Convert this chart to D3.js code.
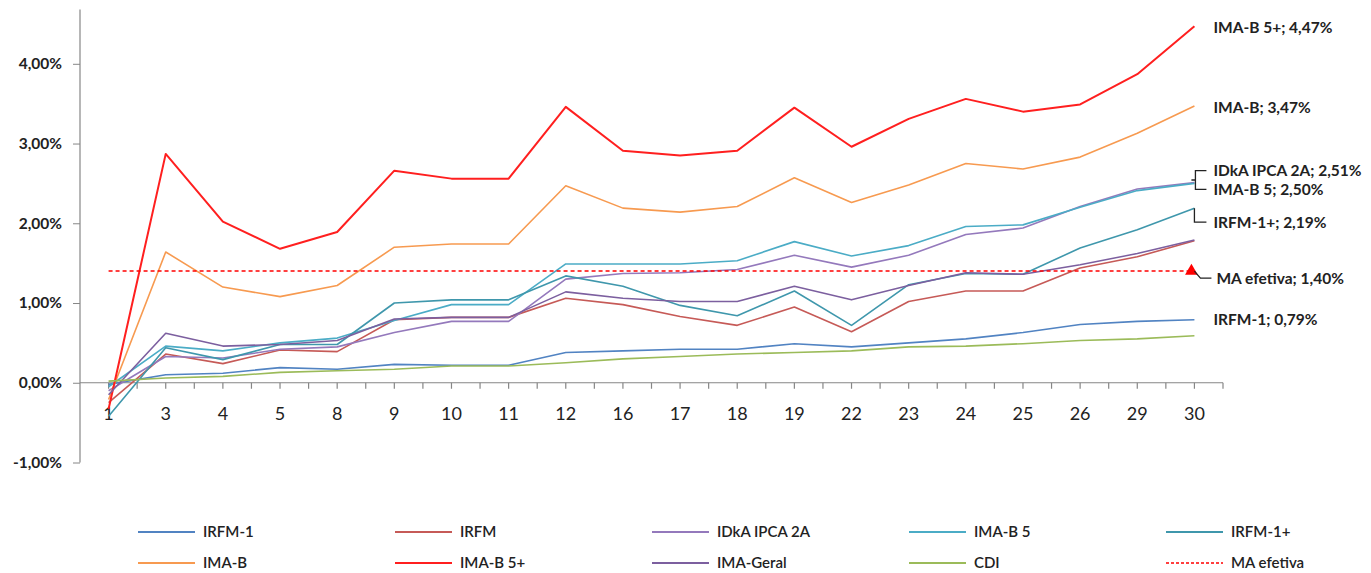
<!DOCTYPE html>
<html><head><meta charset="utf-8">
<script src="https://cdn.jsdelivr.net/npm/d3@7"></script>
<style>
html,body{margin:0;padding:0;background:#fff;}
svg{display:block;font-family:Lato,"Open Sans",sans-serif;}
</style></head>
<body>
<svg id="chart" width="1371" height="573"></svg>
<script>
const categories = ["1","3","4","5","8","9","10","11","12","16","17","18","19","22","23","24","25","26","29","30"];
const irfm1    = [-0.02,0.10,0.12,0.19,0.17,0.23,0.22,0.22,0.38,0.40,0.42,0.42,0.49,0.45,0.50,0.55,0.63,0.73,0.77,0.79];
const irfm     = [-0.25,0.36,0.24,0.41,0.39,0.79,0.82,0.82,1.06,0.98,0.83,0.72,0.95,0.64,1.02,1.15,1.15,1.44,1.58,1.78];
const idka     = [-0.10,0.33,0.31,0.42,0.45,0.63,0.77,0.77,1.30,1.37,1.38,1.42,1.60,1.45,1.60,1.86,1.94,2.21,2.43,2.51];
const imab5    = [-0.05,0.46,0.40,0.50,0.56,0.78,0.98,0.98,1.49,1.49,1.49,1.53,1.77,1.59,1.72,1.96,1.98,2.20,2.41,2.50];
const irfm1p   = [-0.42,0.44,0.29,0.48,0.48,1.00,1.04,1.04,1.34,1.21,0.97,0.84,1.15,0.72,1.23,1.37,1.36,1.69,1.92,2.19];
const imab     = [-0.21,1.64,1.20,1.08,1.22,1.70,1.74,1.74,2.47,2.19,2.14,2.21,2.57,2.26,2.48,2.75,2.68,2.83,3.13,3.47];
const imab5p   = [-0.33,2.87,2.02,1.68,1.89,2.66,2.56,2.56,3.46,2.91,2.85,2.91,3.45,2.96,3.31,3.56,3.40,3.49,3.87,4.47];
const imaGeral = [-0.15,0.62,0.46,0.48,0.53,0.80,0.82,0.82,1.14,1.06,1.02,1.02,1.21,1.04,1.22,1.38,1.36,1.48,1.62,1.79];
const cdi      = [0.02,0.06,0.08,0.13,0.15,0.17,0.21,0.21,0.25,0.30,0.33,0.36,0.38,0.40,0.45,0.46,0.49,0.53,0.55,0.59];
const maEfetiva = categories.map(() => 1.40);
const yTicks = [-1, 0, 1, 2, 3, 4];
const seriesNames = ["IRFM-1","IRFM","IDkA IPCA 2A","IMA-B 5","IRFM-1+","IMA-B","IMA-B 5+","IMA-Geral","CDI","MA efetiva"];
const seriesValues = [irfm1, irfm, idka, imab5, irfm1p, imab, imab5p, imaGeral, cdi, maEfetiva];
const seriesColors = ["#5183C2","#C65A57","#9479BC","#4BACC6","#3F97AC","#F79A50","#FF1F1F","#7C5F9F","#9BBB59","#FF0000"];
const endLabels = [
  {name:"IMA-B 5+", value:"4,47%", series:6, dy:1},
  {name:"IMA-B", value:"3,47%", series:5, dy:2},
  {name:"IDkA IPCA 2A", value:"2,51%", series:2, dy:-12},
  {name:"IMA-B 5", value:"2,50%", series:3, dy:6},
  {name:"IRFM-1+", value:"2,19%", series:4, dy:14},
  {name:"MA efetiva", value:"1,40%", series:9, dy:7},
  {name:"IRFM-1", value:"0,79%", series:0, dy:0}
];

const svg = d3.select("#chart");
const fmt = v => d3.format(".2f")(v).replace(".", ",").replace("\u2212", "-") + "%";

const x = d3.scaleBand().domain(categories).range([80, 1223]).padding(0);
const xc = c => x(c) + x.bandwidth() / 2;
const y = d3.scaleLinear().domain([-1, 4]).range([462.5, 63.8]);

// Y axis
const gy = svg.append("g").attr("transform", "translate(80,0)")
  .call(d3.axisLeft(y).tickValues(yTicks).tickSize(7).tickPadding(11).tickFormat(fmt));
gy.select(".domain").remove();
gy.selectAll(".tick line").attr("stroke", "#868686");
gy.selectAll("text").attr("font-size", 15.5).attr("font-weight", "bold").attr("fill", "#222")
  .attr("font-family", "Lato, sans-serif");
svg.append("line").attr("x1", 80).attr("x2", 80).attr("y1", y(4.68)).attr("y2", y(-1))
  .attr("stroke", "#868686").attr("stroke-width", 1.2);

// X axis at zero
const y0 = y(0);
svg.append("line").attr("x1", 80).attr("x2", 1223).attr("y1", y0).attr("y2", y0)
  .attr("stroke", "#868686").attr("stroke-width", 1.2);
const tickXs = [];
categories.forEach(c => { tickXs.push(xc(c)); tickXs.push(x(c) + x.bandwidth()); });
svg.append("g").selectAll("line").data(tickXs).join("line")
  .attr("x1", d => d).attr("x2", d => d).attr("y1", y0).attr("y2", y0 + 6)
  .attr("stroke", "#868686").attr("stroke-width", 1.2);
svg.append("g").selectAll("text").data(categories).join("text")
  .attr("x", d => xc(d)).attr("y", y0 + 37).attr("text-anchor", "middle")
  .attr("font-size", 18).attr("fill", "#222").text(d => d);

// Lines
const line = d3.line().x((d, i) => xc(categories[i])).y(d => y(d));
seriesValues.forEach((vals, k) => {
  const p = svg.append("path").datum(vals).attr("d", line).attr("fill", "none")
    .attr("stroke", seriesColors[k]).attr("stroke-width", k === 6 ? 2 : 1.6)
    .attr("stroke-linejoin", "round");
  if (k === 9) p.attr("stroke-dasharray", "4,3").attr("stroke-width", 1.5);
});

// Triangle marker at last MA point
const lastC = categories[categories.length - 1];
const mx = xc(lastC) - 3, my = y(maEfetiva[maEfetiva.length - 1]);
svg.append("path").attr("d", d3.symbol().type(d3.symbolTriangle).size(70)())
  .attr("transform", `translate(${mx},${my})`).attr("fill", "#FF0000");

// End labels
const lx = xc(lastC) + 19;
endLabels.forEach(l => {
  const vy = y(seriesValues[l.series][seriesValues[l.series].length - 1]);
  svg.append("text").attr("x", l.series === 9 ? lx + 3 : lx).attr("y", vy + l.dy)
    .attr("dy", "0.35em").attr("font-size", 15.5).attr("font-weight", "bold")
    .attr("fill", "#222").text(`${l.name}; ${l.value}`);
});
// leader lines
const px = xc(lastC);
const lead = svg.append("g").attr("fill", "none").attr("stroke", "#222").attr("stroke-width", 1.3);
const yId = y(idka[idka.length-1]) - 12, yB5 = y(imab5[imab5.length-1]) + 6;
lead.append("path").attr("d", `M${px+12},${yId} H${px+1} V${yB5} H${px+12} M${px+1},${(yId+yB5)/2} H${px-3}`);
const yR = y(irfm1p[irfm1p.length-1]);
lead.append("path").attr("d", `M${px},${yR} V${yR+14} H${px+12}`);
const yM = y(1.40);
lead.append("path").attr("d", `M${px},${yM} L${px+6},${yM+7} H${px+17}`);

// Legend
const legendRows = [532, 563];
seriesNames.forEach((n, k) => {
  const col = k % 5, row = Math.floor(k / 5);
  const tx = 203 + 257 * col, ty = legendRows[row];
  const l = svg.append("line").attr("x1", tx - 65).attr("x2", tx - 8).attr("y1", ty).attr("y2", ty)
    .attr("stroke", seriesColors[k]).attr("stroke-width", k === 6 ? 2.2 : 1.8);
  if (k === 9) l.attr("stroke-dasharray", "3,2").attr("stroke-width", 1.5);
  svg.append("text").attr("x", tx).attr("y", ty).attr("dy", "0.35em")
    .attr("font-size", 15).attr("font-weight", 600).attr("fill", "#222").text(n);
});
</script>
</body></html>
